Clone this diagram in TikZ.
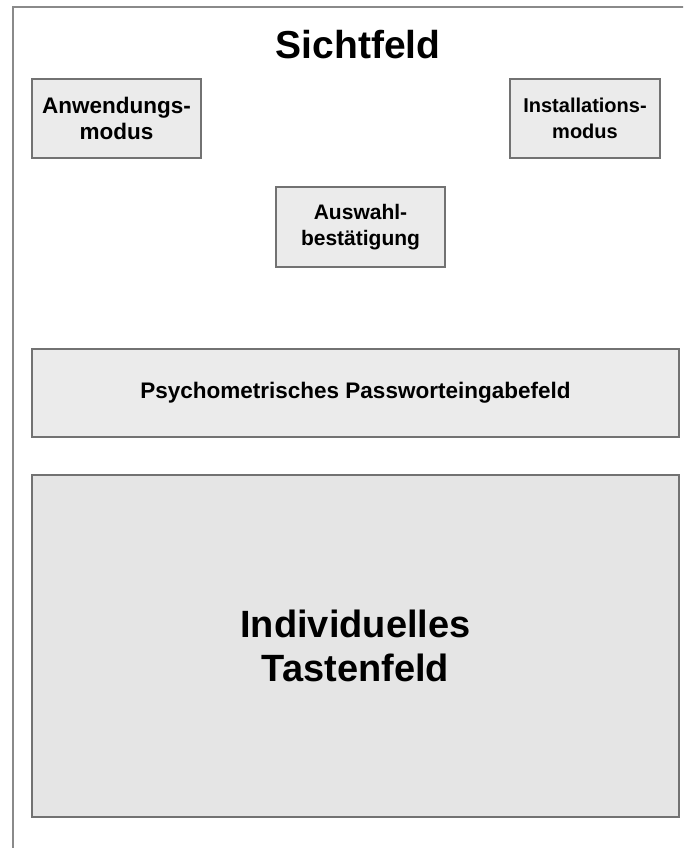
\documentclass[tikz,border=0pt]{standalone}
\usepackage{fontspec}
\setmainfont{Liberation Sans}
\definecolor{frame}{HTML}{8A8A8A}
\definecolor{boxline}{HTML}{727272}
\definecolor{smallfill}{HTML}{EBEBEB}
\definecolor{bigfill}{HTML}{E5E5E5}
\begin{document}
\begin{tikzpicture}[x=1pt,y=-1pt,
  smallbox/.style={draw=boxline, line width=1.4pt, fill=smallfill, inner sep=0pt, align=center,
    font=\fontsize{22.5}{25.5}\selectfont\bfseries},
  bigbox/.style={draw=boxline, line width=1.4pt, fill=bigfill, inner sep=0pt, align=center,
    font=\fontsize{38}{44}\selectfont\bfseries},
  titletext/.style={inner sep=0pt, font=\fontsize{39}{44}\selectfont\bfseries}]
\useasboundingbox (0,0) rectangle (683,848);
\clip (0,0) rectangle (683,848);
\fill[white] (0,0) rectangle (683,848);
\draw[frame, line width=1.6pt] (13,870) -- (13,7) -- (700,7);
\node[titletext] (title) at (358,45) {Sichtfeld};
\node[smallbox, minimum width=169pt, minimum height=79pt] (anw) at (116.5,118.5) {Anwendungs-\\modus};
\node[smallbox, minimum width=150pt, minimum height=79pt, font=\fontsize{20}{25.5}\selectfont\bfseries] (inst) at (585,118.5) {Installations-\\modus};
\node[smallbox, minimum width=169pt, minimum height=80pt, font=\fontsize{21}{25.5}\selectfont\bfseries] (ausw) at (360.5,227) {Auswahl-\\bestätigung};
\node[smallbox, minimum width=647pt, minimum height=88pt] (psy) at (355.5,393) {Psychometrisches Passworteingabefeld};
\node[bigbox, minimum width=647pt, minimum height=342pt] (tast) at (355.5,646) {Individuelles\\Tastenfeld};
\end{tikzpicture}
\end{document}
